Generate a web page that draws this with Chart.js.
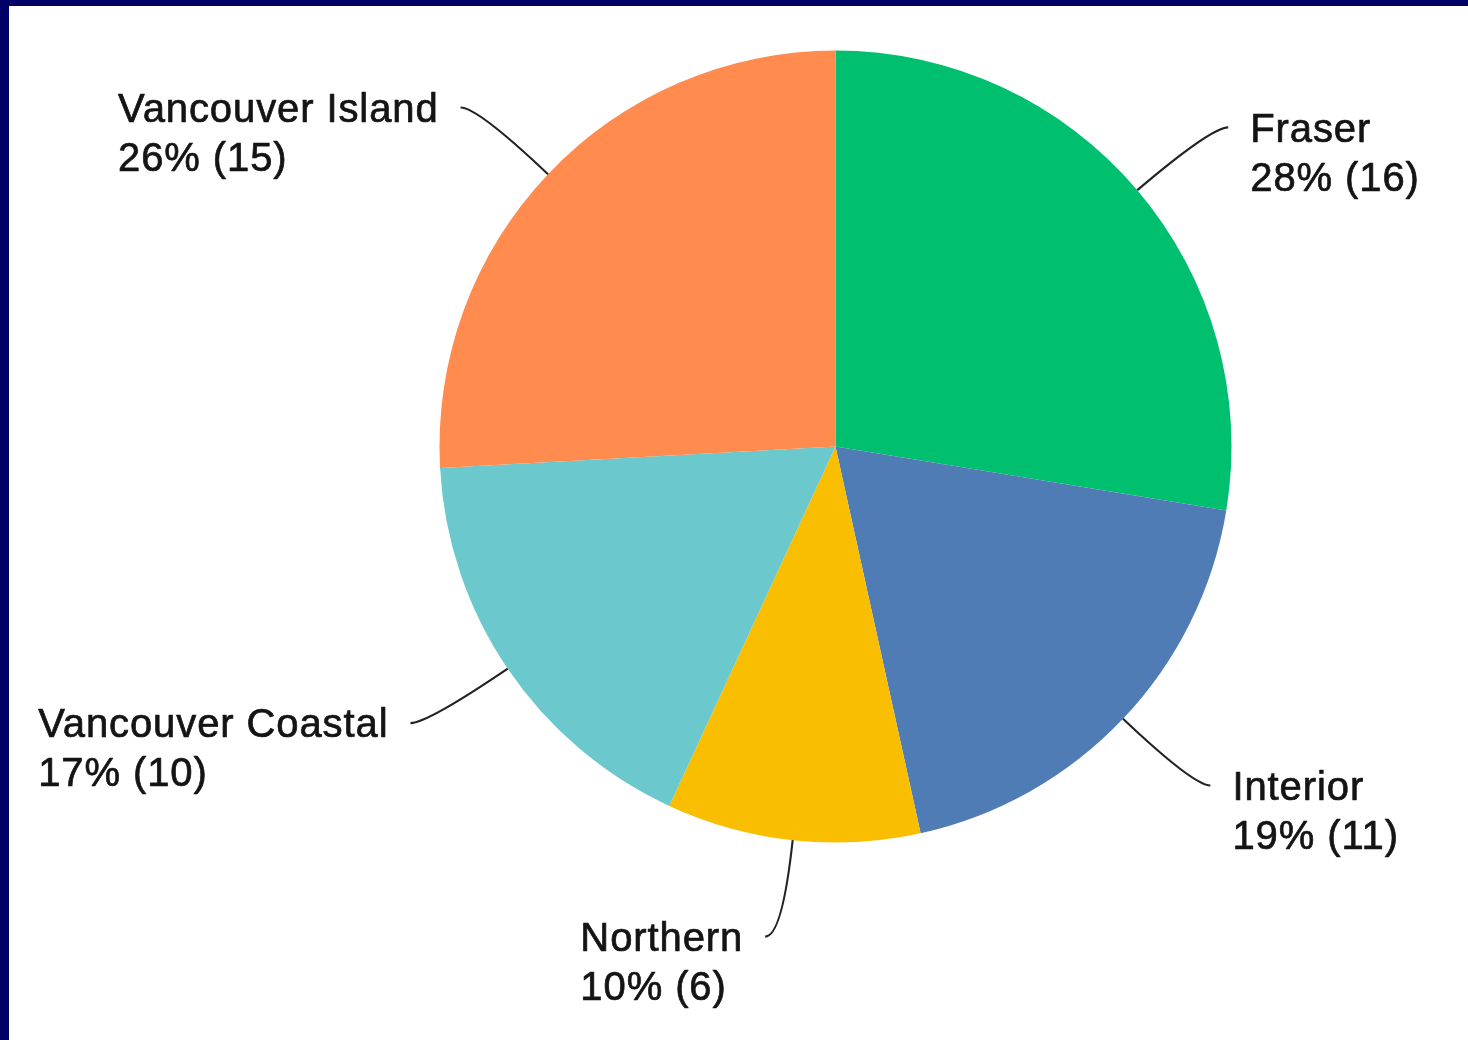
<!DOCTYPE html>
<html>
<head>
<meta charset="utf-8">
<script src="https://cdn.jsdelivr.net/npm/chart.js@4/dist/chart.umd.min.js"></script>
<style>
  html, body { margin: 0; padding: 0; background: #ffffff; }
  #wrap { width: 1459px; height: 1034px; border-top: 6px solid #000066; border-left: 9px solid #000066; background: #ffffff; }
  canvas { display: block; }
</style>
</head>
<body>
<div id="wrap"><canvas id="c" width="1459" height="1034"></canvas></div>
<script>
const categories = ["Fraser", "Interior", "Northern", "Vancouver Coastal", "Vancouver Island"];
const counts = [16, 11, 6, 10, 15];
const sliceColors = ["#00BF6F", "#507CB6", "#F9BE00", "#6BC8CD", "#FF8B4F"];

const labelPlugin = {
  id: 'leaderLabels',
  afterDatasetsDraw(chart) {
    const ctx = chart.ctx;
    const meta = chart.getDatasetMeta(0);
    const data = chart.data.datasets[0].data;
    const total = data.reduce((a, b) => a + b, 0);
    const ext = 97, tail = 17, gap = 22, lineH = 49, fontSize = 40;
    ctx.save();
    ctx.font = fontSize + 'px "Liberation Sans", Arial, sans-serif';
    if ('letterSpacing' in ctx) ctx.letterSpacing = '0.9px';
    meta.data.forEach((arc, i) => {
      const p = arc.getProps(['x', 'y', 'startAngle', 'endAngle', 'outerRadius'], true);
      const mid = (p.startAngle + p.endAngle) / 2;
      const dx = Math.cos(mid), dy = Math.sin(mid);
      const x0 = p.x + dx * p.outerRadius, y0 = p.y + dy * p.outerRadius;
      const x1 = p.x + dx * (p.outerRadius + ext), y1 = p.y + dy * (p.outerRadius + ext);
      const side = dx >= 0 ? 1 : -1;
      const x2 = x1 + side * tail, y2 = y1;
      ctx.strokeStyle = '#222222';
      ctx.lineWidth = 2.1;
      ctx.beginPath();
      ctx.moveTo(x0, y0);
      ctx.quadraticCurveTo(x1, y1, x2, y2);
      ctx.stroke();
      const v = data[i];
      const lines = [chart.data.labels[i], Math.round(v / total * 100) + '% (' + v + ')'];
      const w = Math.max(...lines.map(s => ctx.measureText(s).width));
      const tx = side > 0 ? x2 + gap : x2 - gap - w;
      const base = y2 + fontSize * 0.358;
      ctx.fillStyle = '#141414';
      ctx.strokeStyle = '#141414';
      ctx.lineWidth = 0.7;
      ctx.lineJoin = 'round';
      ctx.textAlign = 'left';
      ctx.textBaseline = 'alphabetic';
      lines.forEach((s, k) => {
        ctx.fillText(s, tx, base + k * lineH);
        ctx.strokeText(s, tx, base + k * lineH);
      });
    });
    ctx.restore();
  }
};

new Chart(document.getElementById('c'), {
  type: 'pie',
  data: {
    labels: categories,
    datasets: [{
      data: counts,
      backgroundColor: sliceColors,
      borderWidth: 0
    }]
  },
  options: {
    responsive: false,
    animation: false,
    layout: { padding: { left: 430.5, right: 236.5, top: 44.5, bottom: 197.5 } },
    plugins: {
      legend: { display: false },
      tooltip: { enabled: false }
    }
  },
  plugins: [labelPlugin]
});
</script>
</body>
</html>
